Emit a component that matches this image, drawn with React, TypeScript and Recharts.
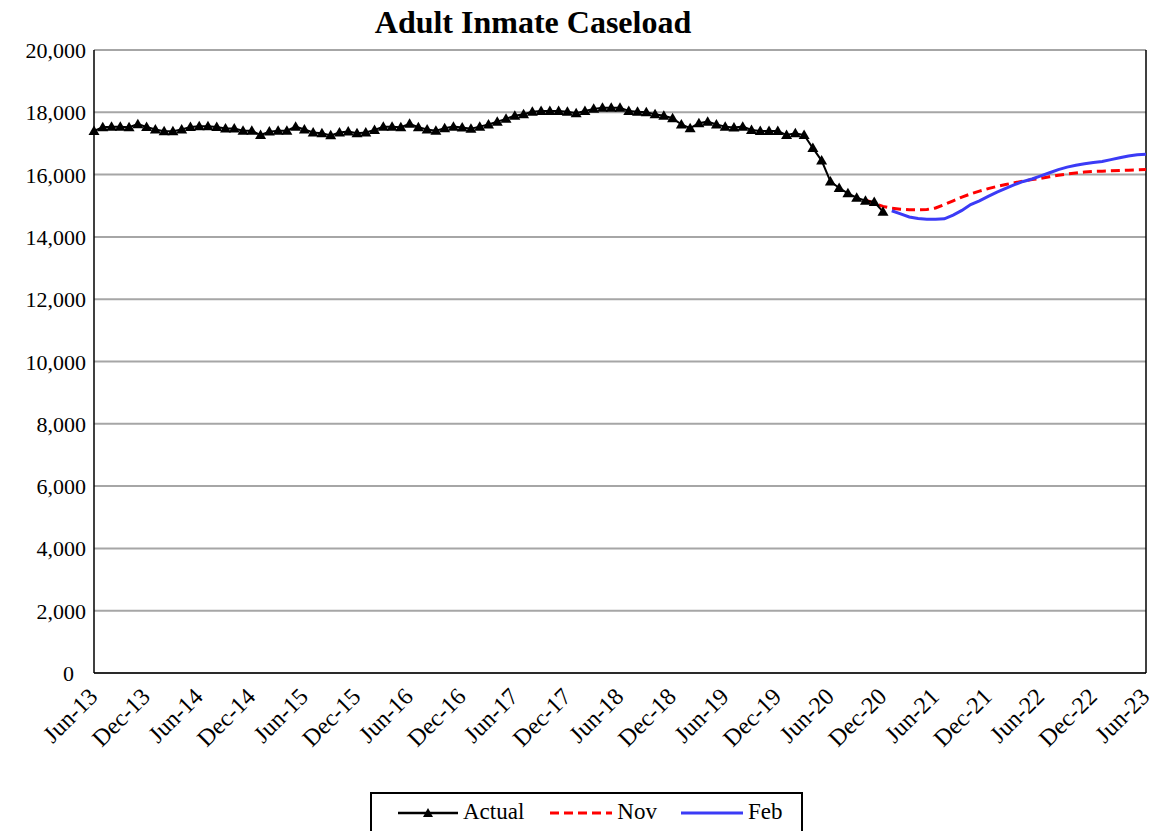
import React from 'react'
import {
  LineChart,
  Line,
  XAxis,
  YAxis,
  CartesianGrid,
  ReferenceLine,
} from 'recharts'

const MONTH_NAMES = ['Jan', 'Feb', 'Mar', 'Apr', 'May', 'Jun', 'Jul', 'Aug', 'Sep', 'Oct', 'Nov', 'Dec']

// Jun-13 .. Jun-23, monthly
const categories: string[] = Array.from({ length: 121 }, (_, i) => {
  const m = (5 + i) % 12
  const y = 13 + Math.floor((5 + i) / 12)
  return `${MONTH_NAMES[m]}-${y}`
})

// Jun-13 .. Dec-20
const actual = [
  17400, 17520, 17540, 17540, 17520, 17620, 17530, 17450, 17390, 17390,
  17450, 17530, 17550, 17550, 17530, 17480, 17480, 17410, 17410, 17270,
  17380, 17410, 17410, 17540, 17450, 17350, 17330, 17260, 17350, 17380,
  17330, 17350, 17430, 17540, 17540, 17520, 17630, 17520, 17450, 17410,
  17490, 17540, 17510, 17470, 17540, 17610, 17700, 17790, 17890, 17940,
  18020, 18040, 18040, 18040, 18020, 17970, 18040, 18110, 18150, 18150,
  18150, 18040, 18020, 18000, 17940, 17890, 17810, 17610, 17490, 17650,
  17700, 17610, 17540, 17510, 17540, 17430, 17400, 17400, 17400, 17270,
  17330, 17270, 16850, 16450, 15780, 15570, 15400, 15260, 15160, 15120,
  14810,
]

// Nov forecast, Oct-20 .. Jun-23
const novStart = 88
const nov = [
  15190, 15080, 14980, 14920, 14890, 14870, 14870, 14880, 14930, 15040,
  15160, 15280, 15380, 15470, 15550, 15620, 15680, 15740, 15790, 15840,
  15880, 15930, 15980, 16020, 16050, 16080, 16100, 16110, 16120, 16130,
  16140, 16150, 16160,
]

// Feb forecast, Jan-21 .. Jun-23
const febStart = 91
const feb = [
  14840, 14740, 14640, 14590, 14570, 14570, 14580, 14700, 14850, 15040,
  15160, 15300, 15440, 15560, 15680, 15780, 15860, 15960, 16060, 16160,
  16240, 16300, 16350, 16390, 16420, 16480, 16540, 16600, 16640, 16650,
]

const yTicks = [0, 2000, 4000, 6000, 8000, 10000, 12000, 14000, 16000, 18000, 20000]

const data = categories.map((month, i) => ({
  month,
  actual: i < actual.length ? actual[i] : null,
  nov: i >= novStart ? nov[i - novStart] : null,
  feb: i >= febStart ? feb[i - febStart] : null,
}))

const FONT = '"Liberation Serif", "Times New Roman", serif'

const Triangle = (props: any) => {
  const { cx, cy } = props
  if (cx == null || cy == null) return null
  return (
    <polygon
      points={`${cx},${cy - 5.5} ${cx - 5.5},${cy + 4} ${cx + 5.5},${cy + 4}`}
      fill="#000"
    />
  )
}

const XTick = (props: any) => {
  const { x, y, payload } = props
  return (
    <g transform={`translate(${x + 5},${y + 17})`}>
      <text
        textAnchor="end"
        transform="rotate(-45)"
        fontSize={24}
        fontFamily={FONT}
        fill="#000"
      >
        {payload.value}
      </text>
    </g>
  )
}

const YTick = (props: any) => {
  const { x, y, payload } = props
  // the zero label sits further from the axis in the original
  const shift = payload.value === 0 ? 12 : 0
  return (
    <text
      x={x - shift}
      y={y}
      dy={8}
      textAnchor="end"
      fontSize={22}
      fontFamily={FONT}
      fill="#000"
    >
      {payload.value.toLocaleString('en-US')}
    </text>
  )
}

export default function App() {
  return (
    <div style={{ position: 'absolute', left: 0, top: 0, width: 1158, height: 831, background: '#fff' }}>
      <div
        style={{
          position: 'absolute',
          left: 0,
          top: 6,
          width: 1066,
          textAlign: 'center',
          fontFamily: FONT,
          fontWeight: 'bold',
          fontSize: 32,
          lineHeight: 1,
        }}
      >
        Adult Inmate Caseload
      </div>
      <LineChart
        width={1158}
        height={790}
        data={data}
        margin={{ top: 50, right: 12, left: 0, bottom: 0 }}
      >
        <CartesianGrid vertical={false} stroke="#a6a6a6" strokeWidth={2} />
        <XAxis
          dataKey="month"
          interval={5}
          height={117}
          tick={<XTick />}
          tickLine={false}
          axisLine={{ stroke: '#000', strokeWidth: 1.5 }}
        />
        <YAxis
          domain={[0, 20000]}
          ticks={yTicks}
          width={94}
          tickLine={false}
          tickSize={6}
          axisLine={{ stroke: '#000', strokeWidth: 1.5 }}
          tick={<YTick />}
        />
        <ReferenceLine x={categories[categories.length - 1]} stroke="#000" strokeWidth={1.5} />
        <Line
          dataKey="nov"
          stroke="#ff0000"
          strokeWidth={3}
          strokeDasharray="9 5"
          dot={false}
          isAnimationActive={false}
        />
        <Line
          dataKey="feb"
          stroke="#3b3bf6"
          strokeWidth={3}
          dot={false}
          isAnimationActive={false}
        />
        <Line
          dataKey="actual"
          stroke="#000"
          strokeWidth={2}
          dot={<Triangle />}
          isAnimationActive={false}
        />
      </LineChart>
      <div
        style={{
          position: 'absolute',
          left: 370,
          top: 792,
          width: 433,
          height: 50,
          border: '2px solid #000',
          fontFamily: FONT,
          fontSize: 23,
          display: 'flex',
          alignItems: 'flex-start',
          paddingTop: 5,
          boxSizing: 'border-box',
        }}
      >
        <svg width={60} height={20} style={{ marginLeft: 26, marginTop: 4 }}>
          <line x1={0} y1={10} x2={60} y2={10} stroke="#000" strokeWidth={2.5} />
          <polygon points="30,5 25,14 35,14" fill="#000" />
        </svg>
        <span style={{ marginLeft: 5 }}>Actual</span>
        <svg width={62} height={20} style={{ marginLeft: 26, marginTop: 4 }}>
          <line x1={0} y1={10} x2={62} y2={10} stroke="#ff0000" strokeWidth={3} strokeDasharray="9 5" />
        </svg>
        <span style={{ marginLeft: 5 }}>Nov</span>
        <svg width={62} height={20} style={{ marginLeft: 24, marginTop: 4 }}>
          <line x1={0} y1={10} x2={62} y2={10} stroke="#3b3bf6" strokeWidth={3} />
        </svg>
        <span style={{ marginLeft: 5 }}>Feb</span>
      </div>
    </div>
  )
}
